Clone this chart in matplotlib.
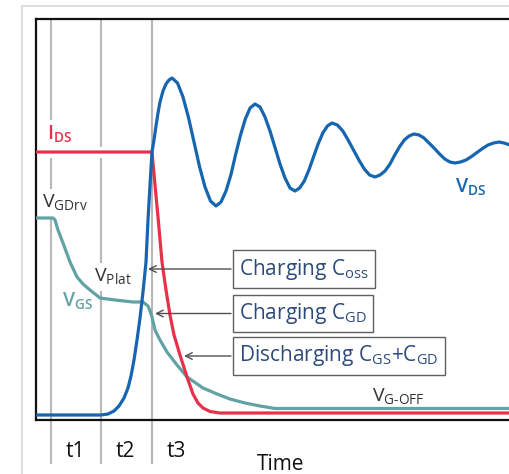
import matplotlib
matplotlib.use('Agg')
import matplotlib.pyplot as plt
from matplotlib.patches import Rectangle

plt.rcParams['font.family'] = 'Open Sans'
plt.rcParams['mathtext.fontset'] = 'custom'
plt.rcParams['mathtext.rm'] = 'Open Sans'
plt.rcParams['mathtext.bf'] = 'Open Sans:semibold'

# drain current
t_ids = [0, 116, 119, 122, 126, 130, 134, 138, 144, 151, 157, 162, 167, 174, 184, 474]
i_ds = [268, 268, 235, 203, 158, 130, 105, 85, 65, 43, 26, 17, 12, 8.5, 7, 7]

# drain-source voltage
t_vds = [0, 65, 72, 78, 83, 88, 92, 95, 98, 101, 104, 107, 110, 112, 114, 116,
         118, 120, 122, 124, 127, 130, 133, 136,
         141.5, 147, 152.5, 158, 163.5, 169, 174.5, 180,
         185, 190, 195, 199.5, 204.4, 209.3, 214.1, 219,
         224, 229, 234, 239, 244, 249, 254, 259,
         263.6, 268.3, 272.9, 277.5, 282.1, 286.8, 291.4, 296,
         301.4, 306.8, 312.1, 317.5, 322.9, 328.3, 333.6, 339,
         344, 349, 354, 358.5, 363.4, 368.3, 373.1, 378,
         383, 388, 393, 398.5, 403.6, 408.8, 413.9, 419,
         424.5, 430, 435.5, 441, 446.5, 452, 457.5, 463, 468, 474]
v_ds = [5, 5, 6, 9, 14, 22, 32, 44, 60, 80, 102, 128, 158, 200, 235, 268,
        280, 294, 307, 318, 329, 336, 340, 342,
        337, 323, 302.5, 278, 253.5, 233, 219, 214,
        218, 229, 245.5, 265, 284.5, 301, 312, 316,
        313, 303, 289, 272.5, 256, 242, 232, 229,
        232, 239, 250, 263, 276, 287, 294, 297,
        295, 289, 280, 270, 260, 251, 245, 243,
        245, 249, 256, 264.5, 273, 280, 284, 286,
        285, 282, 277, 271.5, 266, 261, 258, 257,
        258, 260, 263.5, 267.5, 271.5, 275, 277, 278, 277, 275]

# gate-source voltage
t_vgs = [0, 17, 19, 22, 27, 34, 41, 47, 54, 64, 79, 97, 107, 112, 114, 116,
         119, 124, 131, 141, 151, 167, 181, 194, 209, 224, 239, 474]
v_gs = [202, 202, 200, 190, 177, 158, 143, 136, 130, 122, 120, 118, 118, 114, 109, 103,
        90, 80, 68, 55, 43, 32, 26, 21, 17, 14, 11.5, 11.5]

t_marks = [15, 65, 116]
t_names = ['t1', 't2', 't3']

box_labels = ['Charging C$_{\\mathrm{oss}}$',
              'Charging C$_{\\mathrm{GD}}$',
              'Discharging C$_{\\mathrm{GS}}$+C$_{\\mathrm{GD}}$']
box_v = [151, 106.5, 64]
arrow_tip_t = [112, 119, 148]

red = '#e8304a'
blue = '#1565b0'
teal = '#62a2a5'
dark = '#333333'

fig = plt.figure(figsize=(5.1, 4.74), dpi=100)
fig.add_artist(Rectangle((22 / 510, -0.05), 1.0, (474 - 6) / 474 + 0.05,
                         transform=fig.transFigure, fill=False, ec='#d8d8d8', lw=1.2))
ax = fig.add_axes([36 / 510, 54 / 474, 474 / 510, 401 / 474])
ax.set_xlim(0, 474)
ax.set_ylim(0, 401)
ax.set_xticks([])
ax.set_yticks([])
for s in ['left', 'top', 'bottom']:
    ax.spines[s].set_linewidth(1.6)
    ax.spines[s].set_color('#111111')
ax.spines['right'].set_visible(False)

ax.vlines(t_marks, -44, 401, colors='#b8b8b8', lw=1.5, clip_on=False, zorder=1)

# white gap behind the flat part of IDS
ax.plot([t_ids[0], t_ids[1] - 4], [i_ds[0], i_ds[1]], color='white', lw=8,
        solid_capstyle='butt', zorder=2)

ax.plot(t_vgs, v_gs, color=teal, lw=2.3, zorder=4)
ax.plot(t_ids, i_ds, color=red, lw=2.3, zorder=5)
ax.plot(t_vds, v_ds, color=blue, lw=2.3, zorder=6)

bb = dict(fc='white', ec='none', pad=3)
ax.text(11, 280, 'I$_{\\mathbf{DS}}$', color=red, fontsize=14, weight='semibold', bbox=bb)
ax.text(6, 212, 'V$_{\\mathrm{GDrv}}$', color=dark, fontsize=14, bbox=bb)
ax.text(58, 138, 'V$_{\\mathrm{Plat}}$', color=dark, fontsize=14, bbox=bb)
ax.text(26, 113, 'V$_{\\mathbf{GS}}$', color=teal, fontsize=14, weight='semibold')
ax.text(419, 227, 'V$_{\\mathbf{DS}}$', color=blue, fontsize=14, weight='semibold')
ax.text(336, 18, 'V$_{\\mathrm{G\\text{-}OFF}}$', color=dark, fontsize=14)

for lab, v, tip in zip(box_labels, box_v, arrow_tip_t):
    ax.annotate('', xy=(tip, v), xytext=(195, v),
                arrowprops=dict(arrowstyle='->', color='#505050', lw=1.0,
                                shrinkA=0, shrinkB=0, mutation_scale=12), zorder=7)
    ax.text(203, v, lab, ha='left', va='center', fontsize=15, color='#2c4a7c', zorder=8,
            bbox=dict(boxstyle='square,pad=0.3', fc='white', ec='#606060', lw=1.0))

for t, name in zip(t_marks, t_names):
    ax.text(t + 24, -37, name, ha='center', va='baseline', fontsize=15, color='#111111')
ax.text(221, -49.5, 'Time', ha='left', va='baseline', fontsize=15, color='#111111')

fig.savefig('out.png', dpi=100)
